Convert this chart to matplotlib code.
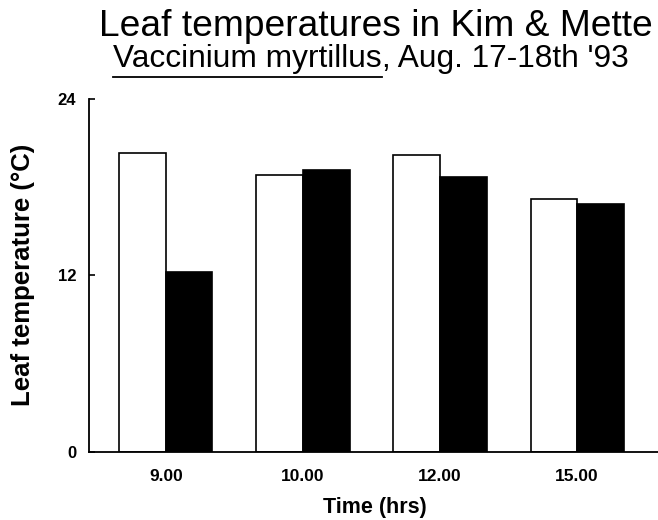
import numpy as np
import matplotlib.pyplot as plt

plt.rcParams['font.family'] = ['Liberation Sans', 'DejaVu Sans']

# data
times = ['9.00', '10.00', '12.00', '15.00']
white_vals = [20.3, 18.8, 20.2, 17.2]
black_vals = [12.2, 19.15, 18.7, 16.85]
yticks = [0, 12, 24]

fig = plt.figure(figsize=(6.58, 5.2), dpi=100)
ax = fig.add_axes([0.135, 0.131, 0.865, 0.679])

x = np.arange(len(times))
w = 0.34
ax.bar(x - w / 2, white_vals, width=w, color='white', edgecolor='black', linewidth=1.2)
ax.bar(x + w / 2, black_vals, width=w, color='black', edgecolor='black', linewidth=1.2)

ax.set_xlim(-0.562, 3.59)
ax.set_ylim(0, 24)
ax.set_yticks(yticks)
ax.set_xticks(x)
ax.set_xticklabels(times, fontsize=12.5, fontweight='bold')
ax.set_yticklabels([str(t) for t in yticks], fontsize=12, fontweight='bold')
ax.tick_params(axis='y', direction='in', length=4.5, width=1.2, pad=9)
ax.tick_params(axis='x', length=0, pad=12)

for s in ['top', 'right']:
    ax.spines[s].set_visible(False)
for s in ['left', 'bottom']:
    ax.spines[s].set_linewidth(1.3)

ax.set_ylabel('Leaf temperature (°C)', fontsize=18.5, fontweight='bold')
ax.yaxis.set_label_coords(-0.095, 0.5)
ax.set_xlabel('Time (hrs)', fontsize=15.5, fontweight='bold', va='top')
ax.xaxis.set_label_coords(0.503, -0.127)

# titles
fig.text(0.571, 0.931, 'Leaf temperatures in Kim & Mette', fontsize=26.7,
         ha='center', va='baseline')
sub1 = fig.text(113 / 658, 0.871, 'Vaccinium myrtillus', fontsize=22.8,
                ha='left', va='baseline')
fig.canvas.draw()
r = fig.canvas.get_renderer()
bb = sub1.get_window_extent(renderer=r).transformed(fig.transFigure.inverted())
fig.text(bb.x1, 0.871, ", Aug. 17-18th '93", fontsize=22.8, ha='left', va='baseline')
fig.add_artist(plt.Line2D([bb.x0, bb.x1], [0.852, 0.852],
                          transform=fig.transFigure, color='black', linewidth=1.3))

plt.savefig('out.png', dpi=100)
